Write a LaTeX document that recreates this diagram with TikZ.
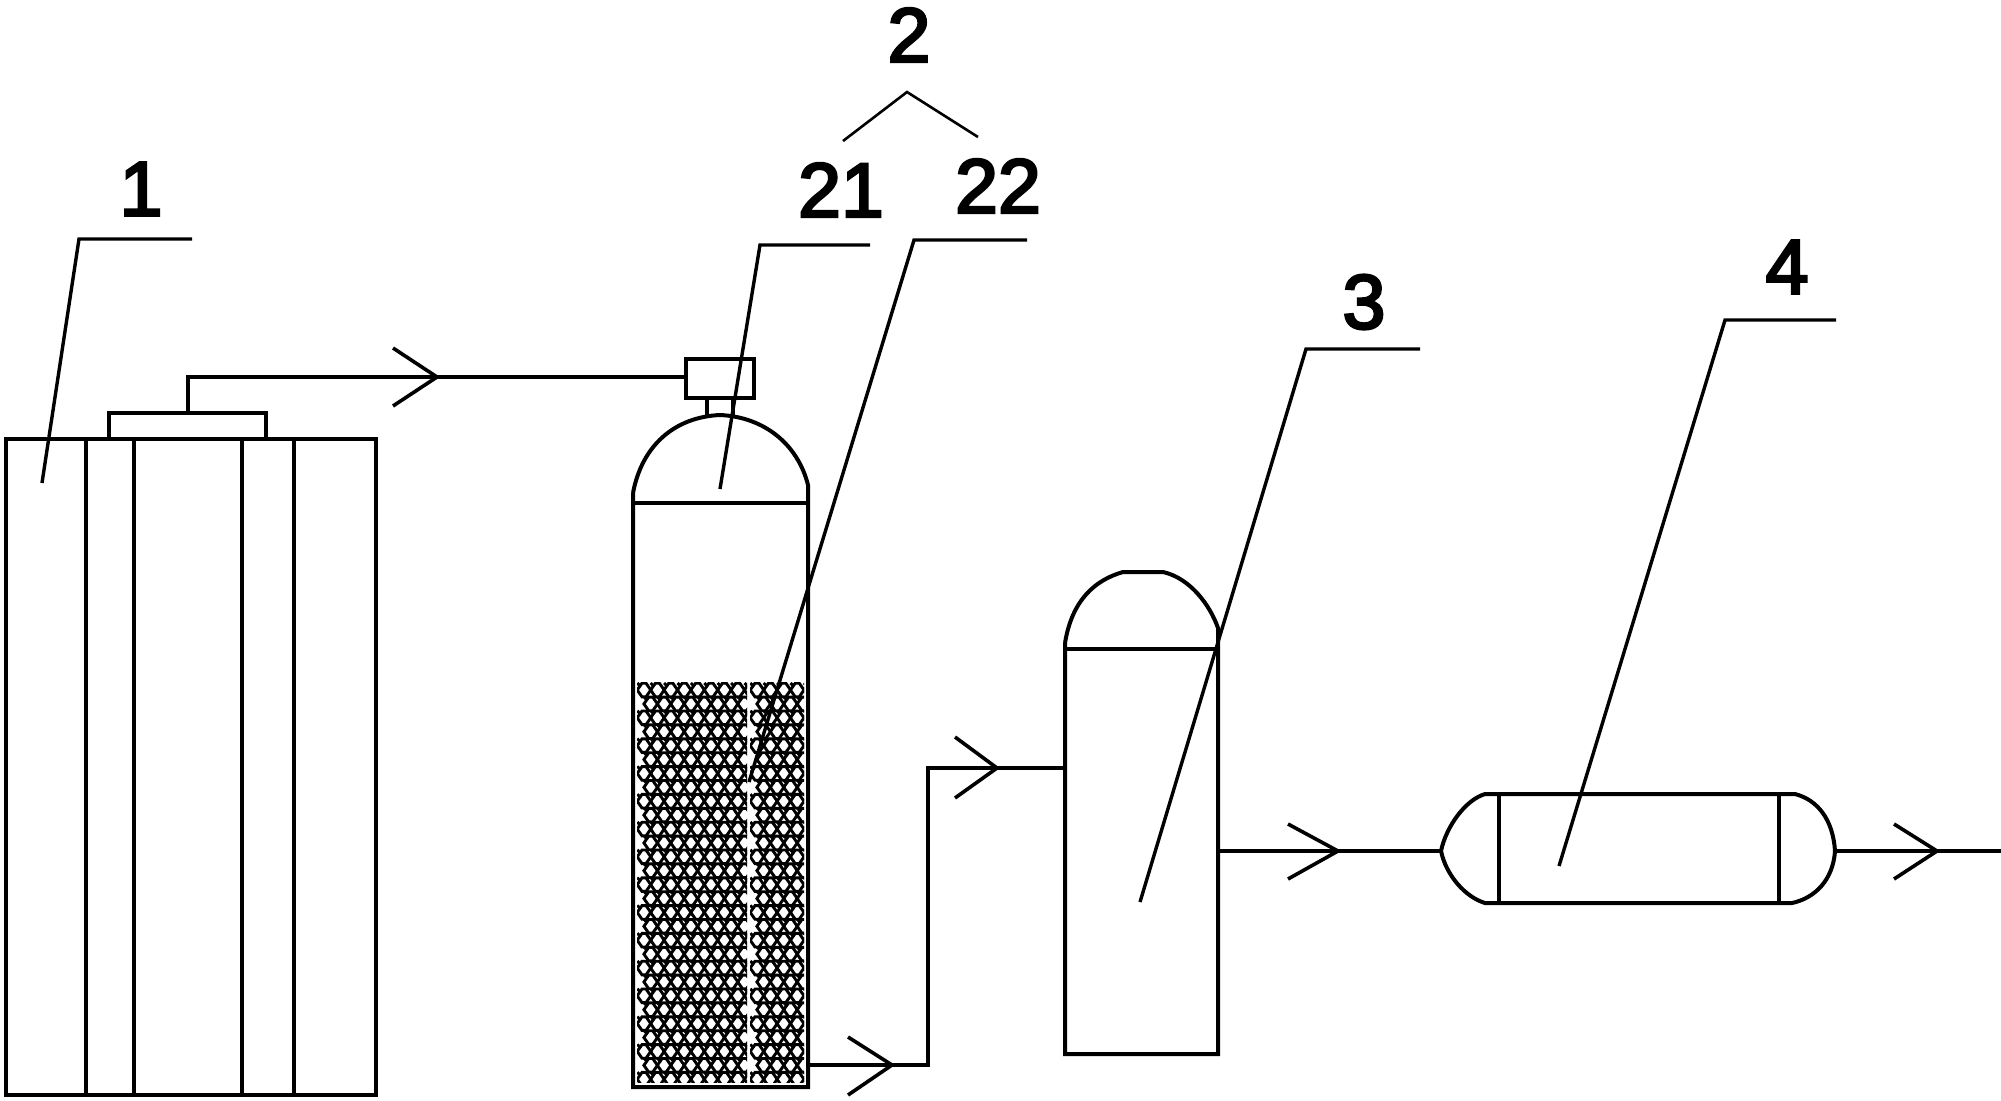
\documentclass[tikz,border=0pt]{standalone}
\usepackage{fontspec}
\setmainfont{Liberation Sans}
\newfontfamily\numfont[FakeBold=3.5]{Liberation Sans}
\tikzset{
  ln/.style={line width=2pt,line join=miter,black},
  lead/.style={line width=1.7pt,black},
  thinlead/.style={line width=1.3pt,black},
  num/.style={font=\fontsize{38.5}{38.5}\selectfont\numfont,inner sep=0pt,anchor=center},
  pack/.style={line width=1.45pt,black}
}
\newcommand{\flowbarb}[3]{\draw[ln,line width=1.8pt] (#2) -- (#1) -- (#3);}
\newcommand{\packblock}[3]{%
  \begin{scope}
  \clip (#1,682) rectangle (#2,1082);
  \foreach \r in {0,...,28}{
    \pgfmathsetmacro{\ry}{690+13.9*\r}
    \pgfmathsetmacro{\off}{mod(\r,2)*6.7}
    \foreach \c in {0,...,#3}{
      \pgfmathsetmacro{\cx}{#1+7+\off+13.4*\c}
      \draw[pack] (\cx-6.8,\ry) -- (\cx-2,\ry-6.8) -- (\cx+2,\ry-6.8) -- (\cx+6.8,\ry)
        -- (\cx+2,\ry+6.8) -- (\cx-2,\ry+6.8) -- cycle;
      \draw[pack] (\cx-6.7,\ry-7) -- (\cx-3.2,\ry-3.4);
    }
  }
  \end{scope}}
\begin{document}
\begin{tikzpicture}[x=0.5pt,y=-0.5pt]
\useasboundingbox (0,0) rectangle (2001,1100);
\fill[white] (0,0) rectangle (2001,1100);
% tank 1
\draw[ln] (6,439) rectangle (376,1095);
\foreach \vx in {86,134,242,294} \draw[ln] (\vx,439) -- (\vx,1095);
\draw[ln] (109,439) -- (109,413) -- (266,413) -- (266,439);
% pipe to valve
\coordinate (capmid) at (188,413);
\coordinate (bend1) at (188,377);
\coordinate (valvein) at (686,377);
\draw[ln] (capmid) -- (bend1) -- (valvein);
\coordinate (tip1) at (437,377);
\coordinate (b1a) at (393,348);
\coordinate (b1b) at (393,406);
\flowbarb{tip1}{b1a}{b1b}
% valve and stem
\draw[ln] (686,359) rectangle (754,398);
\draw[ln] (707,398) -- (707,417);
\draw[ln] (733,398) -- (733,417);
% packing
\packblock{637}{747}{8}
\packblock{750}{804}{4}
% vessel 2
\draw[ln] (633,493) -- (633,1087) -- (808,1087) -- (808,485)
  .. controls (798,445) and (765,417) .. (720,415)
  .. controls (675,417) and (642,445) .. (633,493);
\draw[ln] (633,503) -- (808,503);
% pipe to column
\coordinate (out2) at (808,1065);
\coordinate (bend2a) at (928,1065);
\coordinate (bend2b) at (928,768);
\coordinate (in3) at (1065,768);
\draw[ln] (out2) -- (bend2a) -- (bend2b) -- (in3);
\coordinate (tip2) at (892,1065);
\coordinate (b2a) at (848,1037);
\coordinate (b2b) at (848,1095);
\flowbarb{tip2}{b2a}{b2b}
\coordinate (tip3) at (997,768);
\coordinate (b3a) at (955,737);
\coordinate (b3b) at (955,798);
\flowbarb{tip3}{b3a}{b3b}
% column 3
\draw[ln] (1065,643) -- (1065,1054) -- (1218,1054) -- (1218,628)
  .. controls (1210,605) and (1190,578) .. (1163,572) -- (1123,572)
  .. controls (1095,580) and (1072,600) .. (1065,643);
\draw[ln] (1065,649) -- (1218,649);
% pipe to vessel 4
\coordinate (out3) at (1218,851);
\coordinate (in4) at (1441,851);
\draw[ln] (out3) -- (in4);
\coordinate (tip4) at (1338,851);
\coordinate (b4a) at (1288,824);
\coordinate (b4b) at (1288,879);
\flowbarb{tip4}{b4a}{b4b}
% vessel 4
\draw[ln] (1499,794) -- (1795,794)
  .. controls (1818,800) and (1833,820) .. (1835,851)
  .. controls (1833,880) and (1815,898) .. (1792,903)
  -- (1485,903)
  .. controls (1465,897) and (1446,875) .. (1441,851)
  .. controls (1446,827) and (1465,800) .. (1485,794) -- cycle;
\draw[ln] (1499,794) -- (1499,903);
\draw[ln] (1779,794) -- (1779,903);
% outlet
\coordinate (out4) at (1835,851);
\coordinate (endout) at (2001,851);
\draw[ln] (out4) -- (endout);
\coordinate (tip5) at (1937,851);
\coordinate (b5a) at (1894,824);
\coordinate (b5b) at (1894,879);
\flowbarb{tip5}{b5a}{b5b}
% labels
\node[num] (n1) at (141,189) {1};
\node[num] (n2) at (909,35) {2};
\node[num] (n21) at (841,190) {21};
\node[num] (n22) at (998,186) {22};
\node[num] (n3) at (1364,302) {3};
\node[num] (n4) at (1787,267) {4};
% leaders
\draw[lead] (192,239) -- (79,239) -- (42,483);
\draw[lead] (870,245) -- (760,245) -- (720,489);
\draw[lead] (1027,240) -- (914,240) -- (749,782);
\draw[lead] (1420,349) -- (1306,349) -- (1140,902);
\draw[lead] (1836,320) -- (1725,320) -- (1559,866);
\draw[thinlead] (843,141) -- (907,92) -- (978,137);
\end{tikzpicture}
\end{document}
